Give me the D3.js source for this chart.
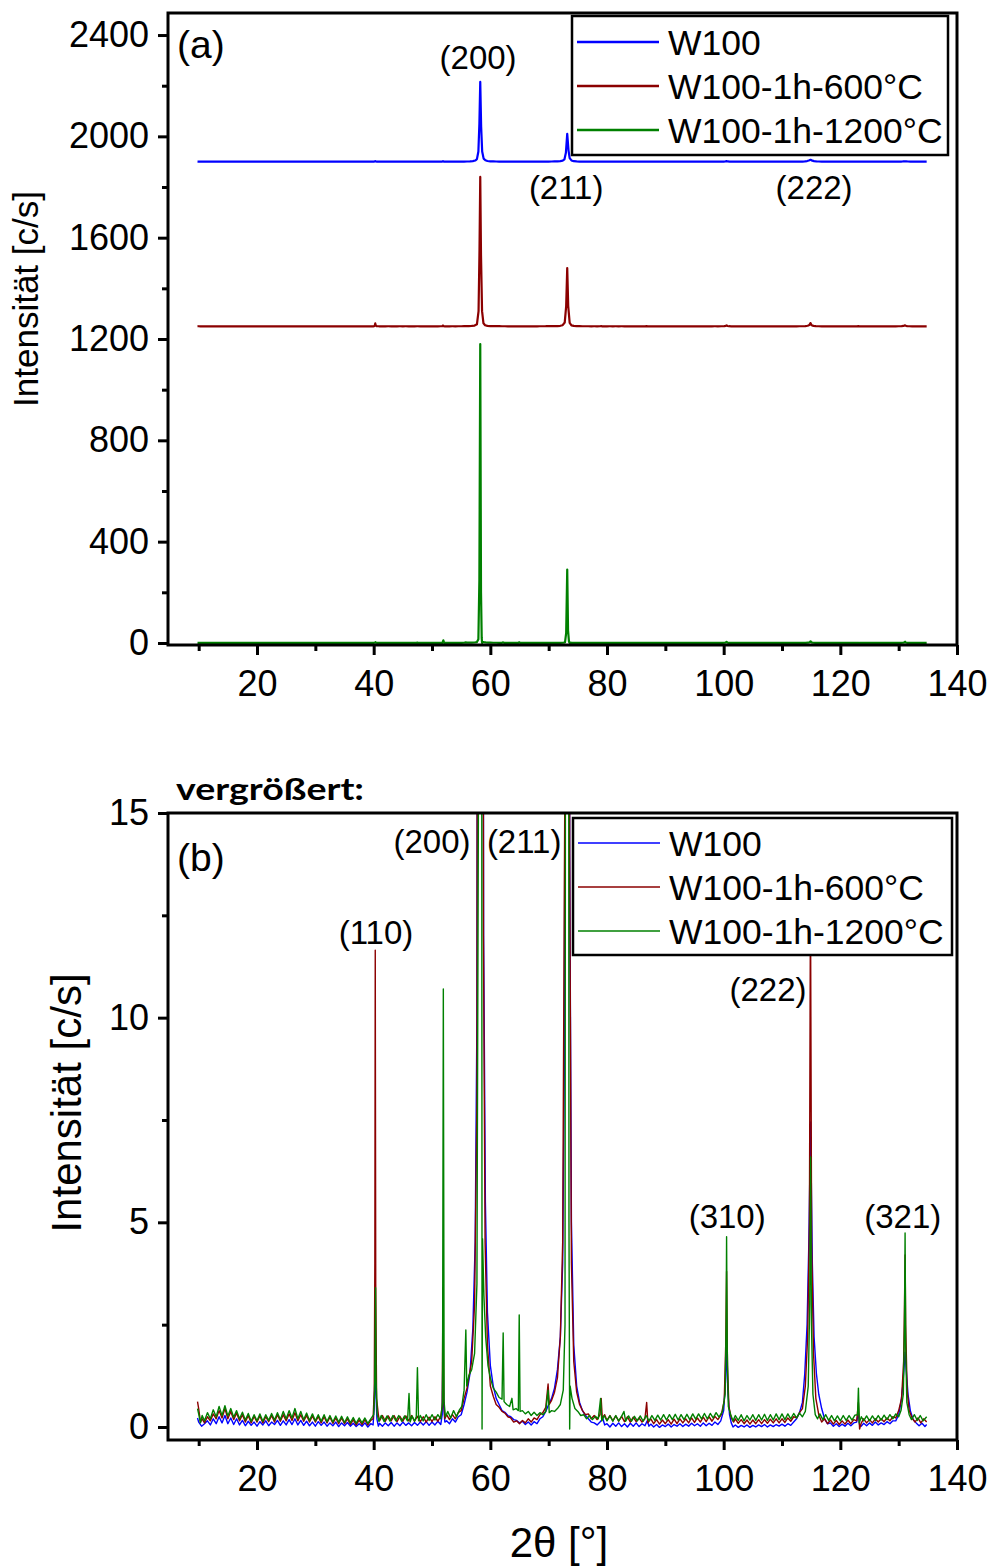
<!DOCTYPE html>
<html>
<head>
<meta charset="utf-8">
<script src="https://cdn.jsdelivr.net/npm/d3@7"></script>
<style>
  body { margin: 0; background: #fff; }
  svg { display: block; }
  text { font-family: "Liberation Sans", Arial, sans-serif; fill: #000; }
</style>
</head>
<body>
<svg id="chart" width="991" height="1566"></svg>
<script>
// XRD scans of W100 samples: [2θ in degrees, intensity in c/s]
const seriesNames = ["W100", "W100-1h-600°C", "W100-1h-1200°C"];
const seriesColors = ["#0000ff", "#8b0000", "#008000"];
// vertical offsets used for the stacked overview (a)
const offsetsA = [1900, 1250, 0];

const scanW100 = [
[9.8,0.22],[10,0.12],[10.5,0.02],[11,0.08],[11.5,0.15],[12,0.05],[12.5,0.2],[13,0.08],[13.5,0.25],[14,0.1],
[14.5,0.28],[15,0.08],[15.5,0.22],[16,0.06],[16.5,0.2],[17,0.05],[17.5,0.16],[18,0.03],[18.5,0.14],[19,0.04],
[19.5,0.12],[20,0.02],[20.5,0.13],[21,0.05],[21.5,0.15],[22,0.03],[22.5,0.12],[23,0.06],[23.5,0.16],[24,0.04],
[24.5,0.15],[25,0.05],[25.5,0.18],[26,0.06],[26.5,0.2],[27,0.05],[27.5,0.16],[28,0.04],[28.5,0.14],[29,0.03],
[29.5,0.12],[30,0.02],[30.5,0.13],[31,0.04],[31.5,0.12],[32,0.02],[32.5,0.1],[33,0.03],[33.5,0.12],[34,0.01],
[34.5,0.1],[35,0.03],[35.5,0.11],[36,0.02],[36.5,0.09],[37,0.01],[37.5,0.08],[38,0.02],[38.5,0.1],[39,0],
[39.5,0.08],[39.9,0.05],[40.1,0.5],[40.2,1.2],[40.28,2.2],[40.38,0.9],[40.55,0.2],[40.8,0.02],[41,0.09],[41.5,0.02],
[42,0.1],[42.5,0.03],[43,0.11],[43.5,0.02],[44,0.1],[44.5,0.03],[45,0.12],[45.5,0.04],[46,0.1],[46.5,0.03],
[47,0.11],[47.5,0.04],[48,0.12],[48.5,0.05],[49,0.13],[49.5,0.04],[50,0.12],[50.5,0.05],[51,0.14],[51.5,0.06],
[51.75,0.3],[51.88,2.0],[52,0.5],[52.2,0.12],[52.5,0.15],[53,0.08],[53.5,0.2],[54,0.12],[54.5,0.25],[55,0.3],
[55.5,0.55],[56,0.85],[56.5,1.3],[57,2.4],[57.4,4.5],[57.7,10],[57.95,40],[58.12,150],[58.27,315],[58.42,140],
[58.6,40],[58.85,12],[59.15,5.5],[59.5,2.8],[60,1.5],[60.5,1.0],[61,0.7],[61.5,0.55],[62,0.4],[62.5,0.36],
[63,0.28],[63.5,0.25],[64,0.18],[64.5,0.16],[65,0.1],[65.5,0.14],[66,0.06],[66.5,0.12],[67,0.05],[67.5,0.13],
[68,0.08],[68.5,0.2],[69,0.25],[69.5,0.38],[70,0.55],[70.5,0.7],[71,0.95],[71.5,1.4],[72,2.2],[72.4,4.0],
[72.7,9],[72.95,35],[73.18,110],[73.4,45],[73.6,14],[73.9,5],[74.3,2.0],[74.8,1.0],[75.3,0.6],[75.8,0.4],
[76.3,0.28],[76.8,0.2],[77.3,0.12],[77.8,0.1],[78.3,0.05],[78.8,0.12],[79.3,0.2],[79.6,0.05],[80,0.08],[80.5,0],
[81,0.09],[81.5,0.02],[82,0.1],[82.5,0.01],[83,0.08],[83.5,0],[84,0.09],[84.5,0.02],[85,0.1],[85.5,0.01],
[86,0.08],[86.5,0.03],[86.9,0.15],[87.2,0.02],[87.5,0.07],[88,0],[88.5,0.06],[89,-0.01],[89.5,0.05],[90,0.01],
[90.5,0.07],[91,0],[91.5,0.06],[92,0.02],[92.5,0.08],[93,0.01],[93.5,0.07],[94,0.02],[94.5,0.09],[95,0.03],
[95.5,0.08],[96,0.02],[96.5,0.1],[97,0.03],[97.5,0.09],[98,0.04],[98.5,0.12],[99,0.06],[99.5,0.15],[100,0.4],
[100.3,1.1],[100.5,2.0],[100.7,0.9],[101,0.3],[101.3,0.1],[101.6,0],[102,0.05],[102.5,-0.01],[103,0.04],[103.5,0],
[104,0.05],[104.5,-0.01],[105,0.04],[105.5,0],[106,0.05],[106.5,0.01],[107,0.06],[107.5,0],[108,0.05],[108.5,0.01],
[109,0.06],[109.5,0.02],[110,0.07],[110.5,0.02],[111,0.08],[111.5,0.04],[112,0.12],[112.5,0.2],[113,0.35],[113.5,0.6],
[113.9,1.3],[114.3,2.5],[114.6,4.5],[114.9,7.45],[115.2,4.0],[115.5,2.2],[115.9,1.3],[116.3,0.8],[116.8,0.45],[117.3,0.2],
[117.8,0.08],[118.3,0.1],[118.8,0.02],[119.3,0.08],[119.8,0.01],[120.3,0.07],[120.8,0.02],[121.3,0.09],[121.8,0.03],[122.3,0.1],
[122.8,0.12],[123.1,0.35],[123.3,0.05],[123.6,0.02],[124,0.09],[124.5,0.03],[125,0.1],[125.5,0.04],[126,0.12],[126.5,0.05],
[127,0.1],[127.5,0.06],[128,0.13],[128.5,0.08],[129,0.15],[129.5,0.15],[130,0.3],[130.4,0.6],[130.7,1.0],[130.95,1.5],
[131.1,1.83],[131.3,1.4],[131.6,0.8],[132,0.4],[132.5,0.18],[133,0.1],[133.5,0.03],[134,0.09],[134.5,0.01],[134.8,0.06]
];

const scanW600 = [
[9.8,0.62],[10,0.45],[10.3,0.12],[10.6,0.2],[11,0.1],[11.5,0.25],[12,0.15],[12.5,0.32],[13,0.2],[13.5,0.4],
[14,0.22],[14.5,0.45],[15,0.2],[15.5,0.38],[16,0.18],[16.5,0.34],[17,0.15],[17.5,0.3],[18,0.12],[18.5,0.28],
[19,0.1],[19.5,0.26],[20,0.12],[20.5,0.27],[21,0.1],[21.5,0.25],[22,0.13],[22.5,0.28],[23,0.12],[23.5,0.3],
[24,0.14],[24.5,0.3],[25,0.15],[25.5,0.32],[26,0.16],[26.5,0.35],[27,0.15],[27.5,0.3],[28,0.14],[28.5,0.28],
[29,0.12],[29.5,0.27],[30,0.12],[30.5,0.26],[31,0.1],[31.5,0.25],[32,0.1],[32.5,0.24],[33,0.09],[33.5,0.22],
[34,0.08],[34.5,0.22],[35,0.08],[35.5,0.2],[36,0.06],[36.5,0.18],[37,0.05],[37.5,0.17],[38,0.06],[38.5,0.18],
[39,0.05],[39.5,0.16],[39.9,0.2],[40.1,0.9],[40.2,4.0],[40.27,11.65],[40.35,3.5],[40.5,0.7],[40.8,0.3],[41,0.15],
[41.5,0.28],[42,0.14],[42.5,0.27],[43,0.15],[43.5,0.28],[44,0.13],[44.5,0.26],[45,0.14],[45.5,0.27],[46,0.15],
[46.5,0.28],[47,0.14],[47.5,0.26],[48,0.13],[48.5,0.25],[49,0.12],[49.5,0.24],[50,0.13],[50.5,0.25],[51,0.14],
[51.5,0.26],[51.75,0.5],[51.88,3.4],[52,0.7],[52.2,0.2],[52.5,0.3],[53,0.18],[53.5,0.3],[54,0.2],[54.5,0.35],
[55,0.4],[55.5,0.7],[56,0.95],[56.3,1.2],[56.8,1.6],[57.3,3.0],[57.7,8],[57.98,60],[58.14,300],[58.27,590],
[58.4,280],[58.58,60],[58.82,12],[59.1,4.5],[59.5,2.0],[60,1.0],[60.5,0.75],[61,0.55],[61.5,0.48],[62,0.38],
[62.5,0.34],[63,0.25],[63.5,0.22],[64,0.12],[64.5,0.15],[65,0.08],[65.5,0.16],[66,0.1],[66.5,0.2],[67,0.12],
[67.5,0.22],[68,0.18],[68.5,0.3],[69,0.35],[69.5,0.48],[69.9,1.05],[70.1,0.55],[70.5,0.65],[71,0.85],[71.5,1.2],
[72,2.2],[72.4,4.5],[72.75,15],[73,80],[73.18,230],[73.35,80],[73.6,14],[73.9,4.0],[74.3,1.6],[74.8,0.85],
[75.3,0.55],[75.8,0.4],[76.3,0.3],[76.8,0.32],[77.3,0.2],[77.8,0.28],[78.3,0.18],[78.8,0.3],[79,0.7],[79.2,0.2],
[79.6,0.3],[80,0.16],[80.5,0.28],[81,0.15],[81.5,0.27],[82,0.14],[82.5,0.26],[83,0.13],[83.5,0.25],[84,0.12],
[84.5,0.24],[85,0.13],[85.5,0.22],[86,0.12],[86.5,0.2],[86.8,0.6],[87,0.1],[87.5,0.2],[88,0.08],[88.5,0.18],
[89,0.07],[89.5,0.17],[90,0.08],[90.5,0.18],[91,0.07],[91.5,0.19],[92,0.08],[92.5,0.2],[93,0.1],[93.5,0.2],
[94,0.1],[94.5,0.22],[95,0.11],[95.5,0.22],[96,0.12],[96.5,0.24],[97,0.13],[97.5,0.25],[98,0.14],[98.5,0.26],
[99,0.18],[99.6,0.3],[100.1,0.65],[100.35,2.0],[100.5,3.8],[100.65,1.5],[100.9,0.5],[101.3,0.22],[101.7,0.12],[102,0.2],
[102.5,0.09],[103,0.18],[103.5,0.08],[104,0.17],[104.5,0.07],[105,0.17],[105.5,0.08],[106,0.18],[106.5,0.08],[107,0.18],
[107.5,0.09],[108,0.19],[108.5,0.1],[109,0.2],[109.5,0.1],[110,0.2],[110.5,0.11],[111,0.22],[111.5,0.14],[112,0.25],
[112.5,0.22],[113,0.35],[113.5,0.45],[114,1.0],[114.4,2.2],[114.7,5.0],[114.88,13.0],[115.08,4.5],[115.4,1.8],[115.8,0.7],
[116.3,0.3],[116.8,0.12],[117.3,0.2],[117.8,0.08],[118.3,0.17],[118.8,0.07],[119.3,0.16],[119.8,0.06],[120.3,0.15],[120.8,0.07],
[121.3,0.17],[121.8,0.08],[122.3,0.18],[122.8,0.15],[123.1,0.6],[123.3,-0.05],[123.6,0.1],[124,0.2],[124.5,0.1],[125,0.18],
[125.5,0.1],[126,0.2],[126.5,0.12],[127,0.2],[127.5,0.13],[128,0.22],[128.5,0.15],[129,0.25],[129.5,0.22],[130,0.4],
[130.5,0.7],[130.85,1.6],[131,3.0],[131.1,4.2],[131.2,2.5],[131.45,0.9],[131.8,0.4],[132.3,0.22],[132.8,0.12],[133.3,0.22],
[133.8,0.1],[134.3,0.2],[134.8,0.12]
];

const scanW1200 = [
[9.8,0.45],[10,0.32],[10.3,0.1],[10.6,0.28],[11,0.15],[11.5,0.35],[12,0.2],[12.5,0.42],[13,0.25],[13.5,0.5],
[14,0.28],[14.5,0.52],[15,0.27],[15.5,0.45],[16,0.24],[16.5,0.4],[17,0.2],[17.5,0.36],[18,0.17],[18.5,0.33],
[19,0.14],[19.5,0.3],[20,0.15],[20.5,0.32],[21,0.14],[21.5,0.3],[22,0.16],[22.5,0.33],[23,0.17],[23.5,0.35],
[24,0.18],[24.5,0.38],[25,0.2],[25.5,0.4],[26,0.22],[26.5,0.45],[27,0.2],[27.5,0.38],[28,0.18],[28.5,0.34],
[29,0.16],[29.5,0.32],[30,0.15],[30.5,0.3],[31,0.14],[31.5,0.3],[32,0.13],[32.5,0.28],[33,0.12],[33.5,0.27],
[34,0.12],[34.5,0.26],[35,0.11],[35.5,0.25],[36,0.1],[36.5,0.23],[37,0.09],[37.5,0.22],[38,0.1],[38.5,0.22],
[39,0.09],[39.5,0.2],[40,0.3],[40.15,0.8],[40.25,2.0],[40.32,3.4],[40.4,1.2],[40.6,0.3],[40.9,0.14],[41.3,0.28],
[41.8,0.13],[42.3,0.27],[42.8,0.14],[43.3,0.28],[43.8,0.15],[44.3,0.28],[44.8,0.14],[45.3,0.27],[45.8,0.15],[46.06,0.82],
[46.25,0.12],[46.6,0.27],[47,0.14],[47.3,0.25],[47.5,1.45],[47.7,0.15],[48,0.28],[48.5,0.15],[49,0.3],[49.5,0.16],
[50,0.3],[50.5,0.17],[51,0.3],[51.5,0.2],[51.8,0.6],[51.94,10.7],[52.08,0.6],[52.3,0.25],[52.7,0.38],[53.2,0.22],
[53.7,0.4],[54.2,0.25],[54.7,0.42],[55.1,0.5],[55.5,0.9],[55.8,2.37],[55.95,1.0],[56.3,1.25],[56.8,1.4],[57.3,1.8],
[57.7,3.5],[57.95,15],[58.12,250],[58.27,1180],[58.4,200],[58.52,20],[58.58,-0.05],[58.66,4.6],[58.9,3.2],[59.2,2.2],
[59.6,1.5],[60,1.2],[60.5,0.95],[61,0.85],[61.5,0.72],[62,0.68],[62.2,2.3],[62.35,0.62],[62.8,0.55],[63.3,0.5],
[63.7,0.7],[63.9,0.42],[64.4,0.45],[64.8,0.4],[64.95,2.74],[65.1,0.38],[65.5,0.4],[66,0.32],[66.5,0.38],[67,0.28],
[67.5,0.36],[68,0.28],[68.5,0.35],[69,0.3],[69.5,0.38],[69.9,0.9],[70.1,0.35],[70.5,0.4],[71,0.38],[71.5,0.45],
[72,0.55],[72.5,0.9],[72.8,2.5],[73,40],[73.18,290],[73.32,50],[73.48,5],[73.6,-0.05],[73.68,1.0],[74,0.7],
[74.5,0.45],[75,0.38],[75.5,0.28],[76,0.3],[76.5,0.2],[77,0.28],[77.5,0.18],[78,0.26],[78.5,0.2],[78.9,0.7],
[79.1,0.15],[79.5,0.28],[80,0.15],[80.5,0.27],[81,0.14],[81.5,0.28],[82,0.15],[82.5,0.26],[82.9,0.38],[83.2,0.14],
[83.7,0.27],[84.2,0.14],[84.7,0.26],[85.2,0.15],[85.7,0.27],[86.2,0.14],[86.7,0.28],[87.2,0.15],[87.7,0.28],[88.2,0.16],
[88.7,0.29],[89.2,0.17],[89.7,0.3],[90.2,0.17],[90.7,0.3],[91.2,0.18],[91.7,0.31],[92.2,0.17],[92.7,0.3],[93.2,0.18],
[93.7,0.31],[94.2,0.18],[94.7,0.32],[95.2,0.19],[95.7,0.32],[96.2,0.2],[96.7,0.33],[97.2,0.2],[97.7,0.33],[98.2,0.22],
[98.7,0.35],[99.2,0.24],[99.8,0.38],[100.25,0.8],[100.42,2.5],[100.5,4.65],[100.6,2.0],[100.8,0.5],[101.2,0.3],[101.6,0.15],
[102,0.28],[102.5,0.16],[103,0.3],[103.5,0.15],[104,0.28],[104.5,0.17],[105,0.3],[105.5,0.16],[106,0.3],[106.5,0.17],
[107,0.31],[107.5,0.16],[108,0.3],[108.5,0.17],[109,0.32],[109.5,0.18],[110,0.32],[110.5,0.18],[111,0.32],[111.5,0.2],
[112,0.33],[112.5,0.22],[113,0.34],[113.5,0.25],[114,0.38],[114.5,1.0],[114.75,3.0],[114.9,6.6],[115.05,2.5],[115.3,0.8],
[115.7,0.3],[116.1,0.2],[116.5,0.32],[117,0.18],[117.5,0.3],[118,0.16],[118.5,0.28],[119,0.15],[119.5,0.27],[120,0.15],
[120.5,0.28],[121,0.16],[121.5,0.28],[122,0.17],[122.5,0.29],[122.95,0.3],[123.1,0.95],[123.25,0.1],[123.6,0.25],[124,0.15],
[124.5,0.27],[125,0.15],[125.5,0.27],[126,0.16],[126.5,0.28],[127,0.17],[127.5,0.29],[128,0.18],[128.5,0.3],[129,0.2],
[129.5,0.32],[130,0.25],[130.4,0.4],[130.8,0.8],[131,2.5],[131.1,4.74],[131.2,2.0],[131.4,0.6],[131.8,0.3],[132.2,0.18],
[132.7,0.3],[133.2,0.16],[133.7,0.28],[134.2,0.15],[134.8,0.25]
];

const scans = [scanW100, scanW600, scanW1200];

// axis ticks
const xMajorTicks = [20, 40, 60, 80, 100, 120, 140];
const xMinorTicks = [10, 30, 50, 70, 90, 110, 130];
const yMajorTicksA = [0, 400, 800, 1200, 1600, 2000, 2400];
const yMinorTicksA = [200, 600, 1000, 1400, 1800, 2200];
const yMajorTicksB = [0, 5, 10, 15];
const yMinorTicksB = [2.5, 7.5, 12.5];

// reflex labels: [text, 2θ, intensity at text baseline]
const reflexLabelsA = [["(200)", 57.9, 2266], ["(211)", 73.0, 1753], ["(222)", 115.5, 1753]];
const reflexLabelsB = [
  ["(200)", 50.0, 14.02], ["(211)", 65.8, 14.02], ["(110)", 40.4, 11.8],
  ["(222)", 107.6, 10.41], ["(310)", 100.6, 4.86], ["(321)", 130.7, 4.86]
];

const svg = d3.select("#chart");

function drawPanel(opt) {
  const { left, right, top, bottom, xDomain, yDomain, yMajor, yMinor, offsets,
          lineWidth, labels, legend, tag, tagPos, clipId, titlePos, titleSize } = opt;
  const x = d3.scaleLinear().domain(xDomain).range([left, right]);
  const y = d3.scaleLinear().domain(yDomain).range([bottom, top]);
  const g = svg.append("g");

  g.append("clipPath").attr("id", clipId)
    .append("rect").attr("x", left).attr("y", top)
    .attr("width", right - left).attr("height", bottom - top);

  // data traces
  const line = (off) => d3.line().x(d => x(d[0])).y(d => y(d[1] + off));
  const traces = g.append("g").attr("clip-path", `url(#${clipId})`);
  scans.forEach((s, i) => {
    traces.append("path").datum(s)
      .attr("d", line(offsets[i]))
      .attr("fill", "none")
      .attr("stroke", seriesColors[i])
      .attr("stroke-width", lineWidth)
      .attr("stroke-linejoin", "round");
  });

  // axes
  const fmt = d3.format("d");
  const axX = g.append("g").attr("transform", `translate(0,${bottom})`)
    .call(d3.axisBottom(x).tickValues(xMajorTicks).tickSize(10).tickPadding(15).tickFormat(fmt));
  const axXm = g.append("g").attr("transform", `translate(0,${bottom})`)
    .call(d3.axisBottom(x).tickValues(xMinorTicks).tickSize(6).tickFormat(""));
  const axY = g.append("g").attr("transform", `translate(${left},0)`)
    .call(d3.axisLeft(y).tickValues(yMajor).tickSize(10).tickPadding(9).tickFormat(fmt));
  const axYm = g.append("g").attr("transform", `translate(${left},0)`)
    .call(d3.axisLeft(y).tickValues(yMinor).tickSize(6).tickFormat(""));
  [axX, axXm, axY, axYm].forEach(a => {
    a.select(".domain").remove();
    a.selectAll("line").attr("stroke", "#000").attr("stroke-width", 3);
    a.selectAll("text").attr("font-size", 36).attr("fill", "#000")
      .style("font-family", '"Liberation Sans", Arial, sans-serif');
  });

  // frame
  g.append("rect").attr("x", left).attr("y", top)
    .attr("width", right - left).attr("height", bottom - top)
    .attr("fill", "none").attr("stroke", "#000").attr("stroke-width", 3);

  // reflex labels
  g.selectAll(".reflex").data(labels).join("text")
    .attr("x", d => x(d[1])).attr("y", d => y(d[2]))
    .attr("text-anchor", "middle").attr("font-size", 33)
    .text(d => d[0]);

  // panel tag
  g.append("text").attr("x", tagPos[0]).attr("y", tagPos[1])
    .attr("font-size", 39).text(tag);

  // legend
  const lg = g.append("g");
  lg.append("rect").attr("x", legend.x).attr("y", legend.y)
    .attr("width", legend.w).attr("height", legend.h)
    .attr("fill", "#fff").attr("stroke", "#000").attr("stroke-width", legend.stroke);
  seriesNames.forEach((name, i) => {
    const cy = legend.y + legend.first + i * 44;
    lg.append("line").attr("x1", legend.x + 5).attr("x2", legend.x + 87)
      .attr("y1", cy).attr("y2", cy)
      .attr("stroke", seriesColors[i]).attr("stroke-width", legend.lineWidth);
    lg.append("text").attr("x", legend.x + 96).attr("y", cy + 12.5)
      .attr("font-size", 35.5).text(name);
  });

  // y-axis title
  g.append("text")
    .attr("transform", `translate(${titlePos[0]},${titlePos[1]}) rotate(-90)`)
    .attr("text-anchor", "middle").attr("font-size", titleSize)
    .text("Intensität [c/s]");
}

drawPanel({
  left: 168, right: 957, top: 13, bottom: 645,
  xDomain: [4.74, 140], yDomain: [-8, 2487],
  yMajor: yMajorTicksA, yMinor: yMinorTicksA, offsets: offsetsA,
  lineWidth: 2.2, labels: reflexLabelsA, tag: "(a)", tagPos: [177, 58],
  legend: { x: 572, y: 16, w: 376, h: 139, first: 26, stroke: 2.5, lineWidth: 2.5 },
  clipId: "clipA", titlePos: [38, 299], titleSize: 35
});

drawPanel({
  left: 168, right: 957, top: 813, bottom: 1440,
  xDomain: [4.74, 140], yDomain: [-0.318, 15],
  yMajor: yMajorTicksB, yMinor: yMinorTicksB, offsets: [0, 0, 0],
  lineWidth: 1.4, labels: reflexLabelsB, tag: "(b)", tagPos: [177, 871],
  legend: { x: 573, y: 818, w: 379, h: 137, first: 25, stroke: 2.5, lineWidth: 1.5 },
  clipId: "clipB", titlePos: [81, 1103], titleSize: 42
});

// zoom note above panel (b)
svg.append("text").attr("x", 176).attr("y", 800)
  .attr("font-size", 30).attr("font-weight", "bold")
  .style("font-family", 'Lato, "Open Sans", "Liberation Sans", sans-serif')
  .attr("textLength", 188).attr("lengthAdjust", "spacingAndGlyphs")
  .text("vergrößert:");

// x-axis title
svg.append("text").attr("x", 559).attr("y", 1557)
  .attr("text-anchor", "middle").attr("font-size", 42)
  .text("2θ [°]");
</script>
</body>
</html>
